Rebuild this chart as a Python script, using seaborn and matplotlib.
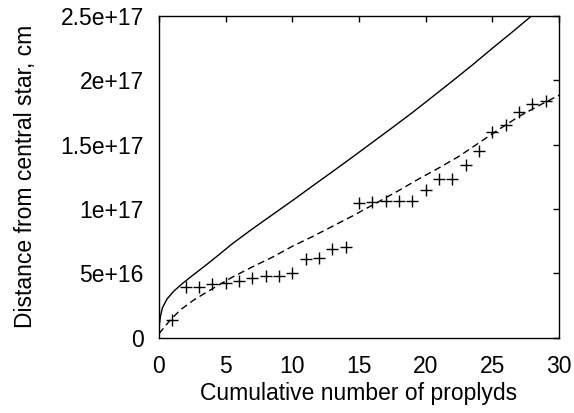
import matplotlib
matplotlib.use("Agg")
import matplotlib.pyplot as plt
import seaborn as sns

# Observed proplyds
obs_n = list(range(1, 30))
obs_d = [1.37e16, 3.91e16, 3.96e16, 4.17e16, 4.27e16, 4.40e16, 4.60e16, 4.79e16, 4.79e16, 5.00e16,
         6.09e16, 6.17e16, 6.87e16, 7.07e16, 1.044e17, 1.057e17, 1.065e17, 1.065e17, 1.065e17, 1.148e17,
         1.231e17, 1.231e17, 1.342e17, 1.453e17, 1.601e17, 1.653e17, 1.752e17, 1.814e17, 1.840e17]

# Solid model curve
solid_x = [0.0, 0.02, 0.1, 0.25, 0.6, 1.1, 1.75, 2.6, 3.6, 4.5, 5.5, 7.0, 8.5, 10.0, 11.5, 13.0,
           14.5, 16.0, 17.5, 19.0, 20.5, 22.0, 23.5, 25.0, 26.5, 28.0]
solid_y = [0.0, 0.9e16, 1.6e16, 2.3e16, 3.0e16, 3.6e16, 4.2e16, 4.9e16, 5.7e16, 6.45e16, 7.3e16,
           8.45e16, 9.55e16, 1.065e17, 1.178e17, 1.29e17, 1.403e17, 1.518e17, 1.633e17, 1.75e17,
           1.872e17, 1.995e17, 2.12e17, 2.25e17, 2.377e17, 2.507e17]

# Dashed model curve
dash_x = [0.0, 0.35, 0.85, 1.6, 2.6, 3.6, 4.5, 5.5, 7.0, 8.5, 10.0, 11.5, 13.0, 14.5, 16.0, 18.0,
          19.5, 21.0, 22.5, 24.0, 25.5, 27.0, 28.5, 30.0]
dash_y = [3.0e15, 7.5e15, 1.37e16, 2.15e16, 2.92e16, 3.55e16, 4.1e16, 4.7e16, 5.5e16, 6.25e16,
          7.1e16, 7.85e16, 8.65e16, 9.45e16, 1.03e17, 1.145e17, 1.235e17, 1.32e17, 1.41e17,
          1.515e17, 1.62e17, 1.72e17, 1.805e17, 1.885e17]

x_ticks = [0, 5, 10, 15, 20, 25, 30]
y_ticks = [0, 5e16, 1e17, 1.5e17, 2e17, 2.5e17]
y_tick_labels = ["0", "5e+16", "1e+17", "1.5e+17", "2e+17", "2.5e+17"]

sns.set_theme(style="white")
plt.rcParams['font.family'] = ['Liberation Sans', 'DejaVu Sans']

fig = plt.figure(figsize=(5.74, 4.13), dpi=100)
ax = fig.add_axes([0.277, 0.1826, 0.697, 0.7784])

sns.lineplot(x=solid_x, y=solid_y, ax=ax, color='black', linewidth=1.0, sort=False)
sns.lineplot(x=dash_x, y=dash_y, ax=ax, color='black', linewidth=1.0, sort=False,
             linestyle=(0, (5, 3)))
ax.plot(obs_n, obs_d, linestyle='none', marker='+', markersize=9, markeredgewidth=1.0, color='black')

ax.set_xlim(0, 30)
ax.set_ylim(0, 2.5e17)
ax.set_xticks(x_ticks)
ax.set_xticklabels([str(t) for t in x_ticks])
ax.set_yticks(y_ticks)
ax.set_yticklabels(y_tick_labels)
ax.tick_params(direction='in', top=True, right=True, length=4.5, width=1.0, color='black',
               labelsize=16.5, labelcolor='black')
ax.tick_params(axis='x', pad=12.5)
ax.tick_params(axis='y', pad=11)
for s in ax.spines.values():
    s.set_color('black')
    s.set_linewidth(1.0)
ax.set_xlabel("Cumulative number of proplyds", fontsize=16.5, color='black', labelpad=3)
ax.set_ylabel("Distance from central star, cm", fontsize=16.5, color='black', labelpad=17)
ax.grid(False)

fig.savefig("out.png", dpi=100)
